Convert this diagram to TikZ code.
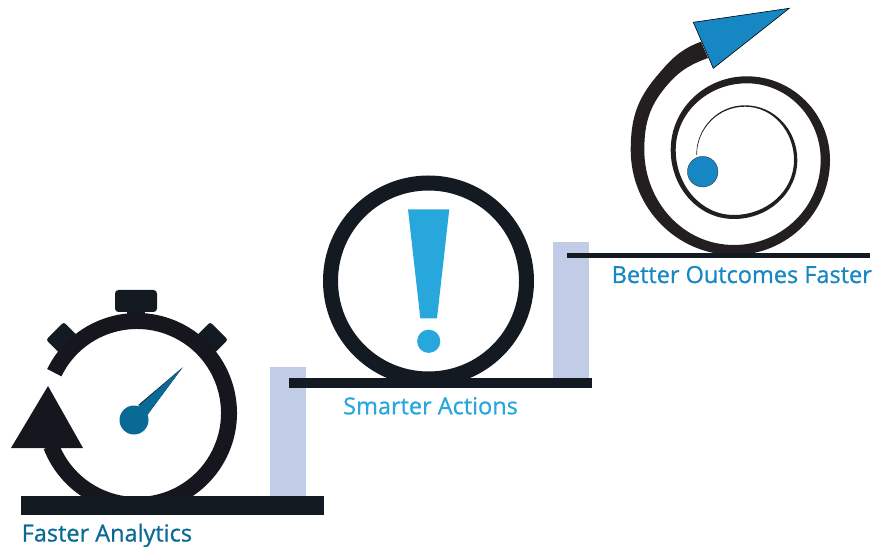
\documentclass[tikz,border=0pt]{standalone}
\usepackage{fontspec}
\setmainfont[FakeBold=0.8]{Open Sans}
\usetikzlibrary{positioning}
\definecolor{barDark}{HTML}{131A22}
\definecolor{watchDark}{HTML}{16161F}
\definecolor{spiralDark}{HTML}{231F20}
\definecolor{barLight}{HTML}{C1CCE7}
\definecolor{tealBlue}{HTML}{0A6A96}
\definecolor{skyBlue}{HTML}{27A7DB}
\definecolor{midBlue}{HTML}{1787C4}
\tikzset{
    stepLabel/.style={anchor=base west, inner sep=0pt, font=\fontsize{23.5}{28}\selectfont},
    lug/.style={fill=barDark, rounded corners=2.5pt, minimum width=25pt, minimum height=20pt, inner sep=0pt}
}

\begin{document}
\begin{tikzpicture}[x=1pt, y=1pt]
    % Cadre de l'image
    \useasboundingbox (0,0) rectangle (874,546);

    % Parametres du chronometre
    \def\watchX{137}
    \def\watchY{133}
    \def\watchR{92}

    % Colonnes claires
    \fill[barLight] (269.5,50) rectangle (305.5,179);
    \fill[barLight] (552.7,168) rectangle (588.7,304);

    % Chronometre
    \node[lug, rotate=45] (lugLeft) at (\watchX-75,\watchY+75) {};
    \node[lug, rotate=-45] (lugRight) at (\watchX+75,\watchY+75) {};
    \fill[barDark] (127,228) rectangle (145,236);
    \fill[barDark, rounded corners=3.5pt] (115,234) rectangle (157,256);
    \draw[watchDark, line width=16pt] (\watchX,\watchY) ++(154:\watchR) arc[start angle=154, end angle=-159, radius=\watchR];
    \fill[watchDark] (48,160) -- (11,98) -- (83,98) -- cycle;

    % Aiguille
    \fill[watchDark] (138.3,141) -- (182.7,178.7) -- (147.3,131) -- cycle;
    \fill[tealBlue] (139,140.4) -- (181.8,177.6) -- (147.3,131) -- cycle;
    \fill[tealBlue] (134,126) circle (14.5);

    % Anneau et point d'exclamation
    \draw[barDark, line width=15pt] (428.5,265) circle (98);
    \fill[skyBlue] (408,336.7) -- (449.3,336.7) -- (437,227.7) -- (420.3,227.7) -- cycle;
    \fill[skyBlue] (428.7,204.7) circle (11.6);

    % Spirale
    \fill[spiralDark] (696.3,391)
        to[out=90,in=180] (745,440.7) to[out=0,in=90] (797.3,386)
        to[out=-90,in=0] (734,327) to[out=180,in=-90] (670.7,396)
        to[out=90,in=180] (746.7,469.7) to[out=0,in=90] (830,386)
        to[out=-90,in=0] (734,291) to[out=180,in=-90] (630.7,396)
        to[out=90,in=-130] (656,469) to[out=50,in=200] (701,504.3) -- (708,488)
        to[out=200,in=50] (666,459.5) to[out=-130,in=90] (644.3,396)
        to[out=-90,in=180] (734,301)
        to[out=0,in=-90] (820.7,386) to[out=90,in=0] (746.7,462.7)
        to[out=180,in=90] (675.7,396) to[out=-90,in=180] (734,331)
        to[out=0,in=-90] (794,386) to[out=90,in=0] (745,439.3)
        to[out=180,in=90] (696.9,391) -- cycle;
    \draw[fill=midBlue, line width=0.6pt] (693.3,523.7) -- (789.3,537.7) -- (713.3,477.7) -- cycle;
    \draw[fill=midBlue, draw=spiralDark, line width=0.3pt] (702.7,374.3) circle (15.3);

    % Marches
    \fill[barDark] (21,31) rectangle (324,50);
    \fill[barDark] (289,158) rectangle (592,168);
    \fill[barDark] (567,288) rectangle (870,293);

    % Textes
    \node[stepLabel, text=tealBlue] (labelAnalytics) at (21.5,4.5) {Faster Analytics};
    \node[stepLabel, text=skyBlue] (labelActions) at (343,131.7) {Smarter Actions};
    \node[stepLabel, text=midBlue] (labelOutcomes) at (611.5,263) {Better Outcomes Faster};
\end{tikzpicture}
\end{document}
